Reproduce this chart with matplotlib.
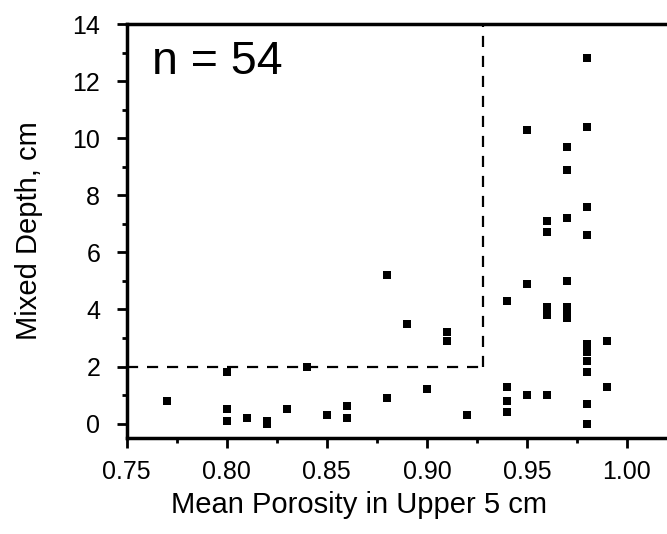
import matplotlib
matplotlib.use("Agg")
import matplotlib.pyplot as plt
from matplotlib.ticker import MultipleLocator, FormatStrFormatter

plt.rcParams['font.family'] = ['Liberation Sans', 'DejaVu Sans']

porosity = [0.77, 0.80, 0.80, 0.80, 0.81, 0.82, 0.82, 0.83, 0.84, 0.85,
            0.86, 0.86, 0.88, 0.88, 0.89, 0.90, 0.91, 0.91, 0.92,
            0.94, 0.94, 0.94, 0.94, 0.95, 0.95, 0.95,
            0.96, 0.96, 0.96, 0.96, 0.96,
            0.97, 0.97, 0.97, 0.97, 0.97, 0.97, 0.97,
            0.98, 0.98, 0.98, 0.98, 0.98, 0.98, 0.98, 0.98, 0.98, 0.98,
            0.99, 0.99]
depth = [0.8, 1.8, 0.5, 0.1, 0.2, 0.1, 0.0, 0.5, 2.0, 0.3,
         0.6, 0.2, 0.9, 5.2, 3.5, 1.2, 3.2, 2.9, 0.3,
         4.3, 1.3, 0.8, 0.4, 10.3, 4.9, 1.0,
         7.1, 6.7, 4.1, 3.8, 1.0,
         9.7, 8.9, 7.2, 5.0, 4.1, 3.8, 3.7,
         12.8, 10.4, 7.6, 6.6, 2.8, 2.5, 2.2, 1.8, 0.7, 0.0,
         2.9, 1.3]

porosity_cut = 0.928
depth_cut = 2.0
n_label = "n = 54"

fig = plt.figure(figsize=(6.67, 5.34), dpi=100)
ax = fig.add_axes([0.19, 0.18, 0.81, 0.775])

ax.scatter(porosity, depth, marker='s', s=40, color='black', linewidths=0)

# dashed box marking the threshold region
ax.plot([0.75, porosity_cut], [depth_cut, depth_cut], 'k--', lw=1.6, dashes=(5, 4))
ax.plot([porosity_cut, porosity_cut], [depth_cut, 14], 'k--', lw=1.6, dashes=(5, 4))

ax.text(0.7625, 12.25, n_label, fontsize=33.5)

ax.set_xlim(0.75, 1.02)
ax.set_ylim(-0.5, 14)
ax.xaxis.set_major_locator(MultipleLocator(0.05))
ax.xaxis.set_minor_locator(MultipleLocator(0.025))
ax.xaxis.set_major_formatter(FormatStrFormatter('%.2f'))
ax.yaxis.set_major_locator(MultipleLocator(2))
ax.yaxis.set_minor_locator(MultipleLocator(1))

ax.spines['right'].set_visible(False)
for side in ['left', 'bottom', 'top']:
    ax.spines[side].set_linewidth(2.5)

ax.tick_params(which='major', direction='out', length=7, width=2, labelsize=18)
ax.tick_params(which='minor', direction='out', length=3.6, width=2)
ax.tick_params(axis='x', which='major', pad=9)
ax.tick_params(axis='y', which='major', pad=12)
ax.tick_params(top=False, which='both')

ax.set_xlabel('Mean Porosity in Upper 5 cm', fontsize=21, va='center')
ax.xaxis.set_label_coords(0.43, -0.162)
ax.set_ylabel('Mixed Depth, cm', fontsize=21, va='center')
ax.yaxis.set_label_coords(-0.181, 0.5)

fig.savefig('out.png', dpi=100)
